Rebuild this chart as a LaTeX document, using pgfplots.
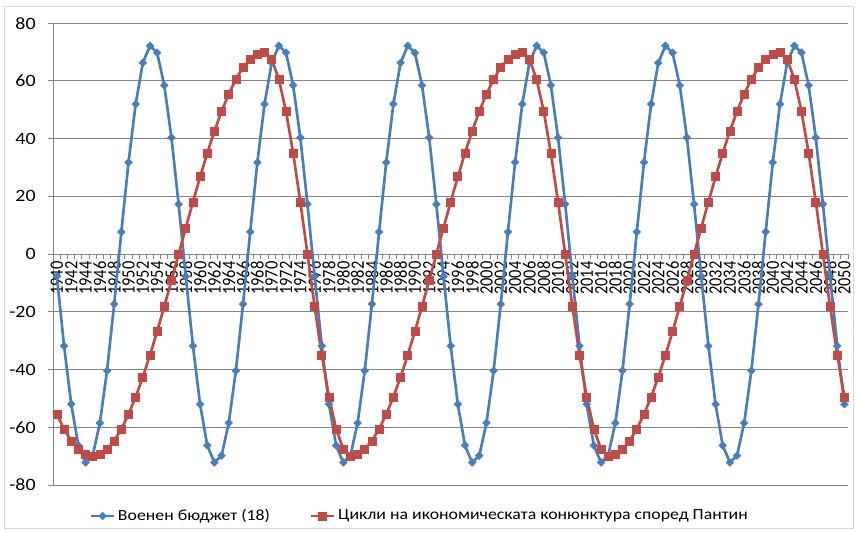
\documentclass[border=0pt]{standalone}
\usepackage{fontspec}
\setmainfont{Carlito}[FakeStretch=1.15]
\newfontfamily\tickfont{Carlito}
\usepackage{pgfplots}
\pgfplotsset{compat=1.18}
\usepackage{pgfplotstable}

\definecolor{blu}{HTML}{4A7EBB}
\definecolor{rd}{HTML}{BE4B48}
\definecolor{grd}{HTML}{868686}
\definecolor{frm}{HTML}{D9D9D9}

% year, military budget (18-year cycle), Pantin business cycle
\pgfplotstableread{
year blue red
1940 -7.7 -55.5
1941 -31.8 -60.6
1942 -52.0 -64.7
1943 -66.3 -67.6
1944 -72.2 -69.4
1945 -69.8 -70.0
1946 -58.5 -69.4
1947 -40.4 -67.6
1948 -17.3 -64.7
1949 7.7 -60.6
1950 31.8 -55.5
1951 52.0 -49.5
1952 66.3 -42.6
1953 72.2 -35.0
1954 69.8 -26.8
1955 58.5 -18.1
1956 40.4 -9.1
1957 17.3 0
1958 -7.7 9.1
1959 -31.8 18.1
1960 -52.0 26.8
1961 -66.3 35.0
1962 -72.2 42.6
1963 -69.8 49.5
1964 -58.5 55.5
1965 -40.4 60.6
1966 -17.3 64.7
1967 7.7 67.6
1968 31.8 69.4
1969 52.0 70.0
1970 66.3 67.6
1971 72.2 60.6
1972 69.8 49.5
1973 58.5 35.0
1974 40.4 18.1
1975 17.3 0
1976 -7.7 -18.1
1977 -31.8 -35.0
1978 -52.0 -49.5
1979 -66.3 -60.6
1980 -72.2 -67.6
1981 -69.8 -70.0
1982 -58.5 -69.4
1983 -40.4 -67.6
1984 -17.3 -64.7
1985 7.7 -60.6
1986 31.8 -55.5
1987 52.0 -49.5
1988 66.3 -42.6
1989 72.2 -35.0
1990 69.8 -26.8
1991 58.5 -18.1
1992 40.4 -9.1
1993 17.3 0
1994 -7.7 9.1
1995 -31.8 18.1
1996 -52.0 26.8
1997 -66.3 35.0
1998 -72.2 42.6
1999 -69.8 49.5
2000 -58.5 55.5
2001 -40.4 60.6
2002 -17.3 64.7
2003 7.7 67.6
2004 31.8 69.4
2005 52.0 70.0
2006 66.3 67.6
2007 72.2 60.6
2008 69.8 49.5
2009 58.5 35.0
2010 40.4 18.1
2011 17.3 0
2012 -7.7 -18.1
2013 -31.8 -35.0
2014 -52.0 -49.5
2015 -66.3 -60.6
2016 -72.2 -67.6
2017 -69.8 -70.0
2018 -58.5 -69.4
2019 -40.4 -67.6
2020 -17.3 -64.7
2021 7.7 -60.6
2022 31.8 -55.5
2023 52.0 -49.5
2024 66.3 -42.6
2025 72.2 -35.0
2026 69.8 -26.8
2027 58.5 -18.1
2028 40.4 -9.1
2029 17.3 0
2030 -7.7 9.1
2031 -31.8 18.1
2032 -52.0 26.8
2033 -66.3 35.0
2034 -72.2 42.6
2035 -69.8 49.5
2036 -58.5 55.5
2037 -40.4 60.6
2038 -17.3 64.7
2039 7.7 67.6
2040 31.8 69.4
2041 52.0 70.0
2042 66.3 67.6
2043 72.2 60.6
2044 69.8 49.5
2045 58.5 35.0
2046 40.4 18.1
2047 17.3 0
2048 -7.7 -18.1
2049 -31.8 -35.0
2050 -52.0 -49.5
}\cycles

\begin{document}
\begin{tikzpicture}
\begin{axis}[
  at={(0,0)}, anchor=south west,
  scale only axis,
  width=596pt, height=346.3pt,
  xmin=1939.5, xmax=2050.5,
  ymin=-80, ymax=80,
  axis x line=middle, axis y line=left,
  axis line style={-, draw=grd, line width=0.75pt},
  tick align=outside,
  xtick={1940,1942,...,2050},
  minor xtick={1939.5,1940.5,...,2050.5},
  major x tick style={draw=none},
  minor x tick style={draw=grd, line width=0.75pt},
  minor tick length=3.75pt,
  ytick={-80,-60,...,80},
  yticklabels={-80,-60,-40,-20,0,20,40,60,80},
  major y tick style={draw=grd, line width=0.75pt},
  major tick length=3.75pt,
  ymajorgrids,
  major grid style={draw=grd, line width=0.75pt},
  /pgf/number format/1000 sep={},
  /pgf/number format/assume math mode=true,
  xticklabel style={rotate=90, anchor=east, yscale=1.15,
    font=\tickfont\fontsize{12.3}{12.3}\selectfont, inner sep=1.5pt},
  yticklabel style={font=\fontsize{13}{13}\selectfont, xshift=-6pt},
  legend style={at={(0.4616,-0.0671)}, anchor=center, draw=none, fill=none,
    font=\fontsize{11.6}{11.6}\selectfont},
  legend columns=2,
  /tikz/every even column/.append style={column sep=28pt},
]
\addplot[blu, line width=2pt, mark=square*, mark size=2pt,
  mark options={rotate=45, fill=blu, draw=blu, line width=0.5pt}]
  table[x=year, y=blue] {\cycles};
\addlegendentry{Военен бюджет (18)}
\addplot[rd, line width=2pt, mark=square*, mark size=3pt,
  mark options={fill=rd, draw=rd, line width=0.5pt}]
  table[x=year, y=red] {\cycles};
\addlegendentry{Цикли на икономическата конюнктура според Пантин}
\end{axis}
\draw[frm, line width=0.75pt] (-36.75pt,-32.25pt) rectangle (600pt,358.5pt);
\pgfresetboundingbox
\path (-40pt,-35.25pt) rectangle (602pt,363.75pt);
\end{tikzpicture}
\end{document}
